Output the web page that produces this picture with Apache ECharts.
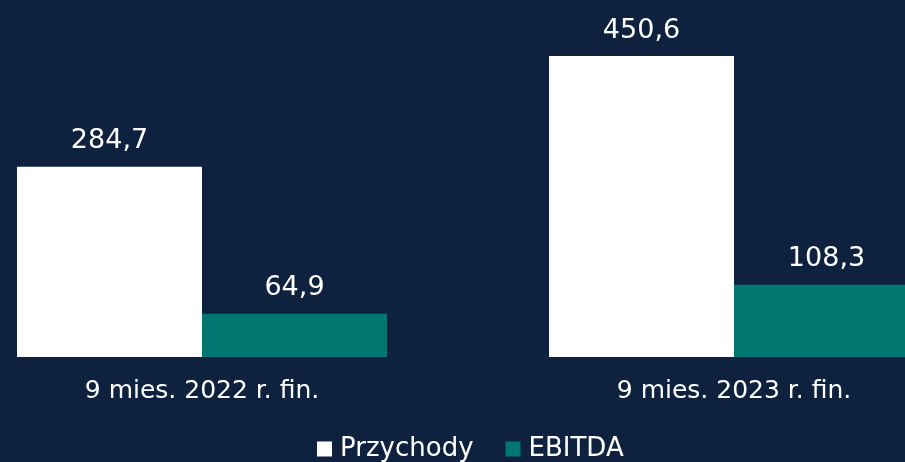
<!DOCTYPE html>
<html>
<head>
<meta charset="utf-8">
<script src="https://cdn.jsdelivr.net/npm/echarts@6/dist/echarts.min.js"></script>
<style>
  html, body { margin: 0; padding: 0; background: #0e2240; }
  #main { width: 905px; height: 462px; }
</style>
</head>
<body>
<div id="main"></div>
<script>
var categories = ['9 mies. 2022 r. fin.', '9 mies. 2023 r. fin.'];
var revenue = [284.7, 450.6];
var ebitda = [64.9, 108.3];

var chart = echarts.init(document.getElementById('main'));

// etykiety z przecinkiem dziesiętnym
function fmt(p) {
    return p.value[1].toFixed(1).replace('.', ',');
}

// oś x jako wartość, żeby druga grupa mogła wyjść poza prawą krawędź
function pairs(arr) {
    return arr.map(function (v, i) { return [i, v]; });
}

var option = {
    backgroundColor: '#0e2240',
    textStyle: { fontFamily: 'DejaVu Sans' },
    grid: { left: 0, right: 0, top: 23, bottom: 105 },
    legend: {
        top: 431,
        left: 312,
        icon: 'rect',
        itemWidth: 15,
        itemHeight: 15,
        itemGap: 32,
        textStyle: { color: '#ffffff', fontSize: 26, fontFamily: 'DejaVu Sans', padding: [0, 0, 0, 3] },
        data: ['Przychody', 'EBITDA']
    },
    xAxis: {
        type: 'value',
        min: -0.3797,
        max: 1.3214,
        axisLine: { show: false },
        axisTick: { show: false },
        splitLine: { show: false },
        axisLabel: {
            customValues: [0, 1],
            color: '#ffffff',
            fontSize: 25,
            margin: 22,
            fontFamily: 'DejaVu Sans',
            formatter: function (v) { return categories[Math.round(v)]; }
        }
    },
    yAxis: {
        type: 'value',
        min: 0,
        max: 500,
        show: false,
        splitLine: { show: false }
    },
    series: [
        {
            name: 'Przychody',
            type: 'bar',
            data: pairs(revenue),
            barWidth: 185,
            barGap: '0%',
            itemStyle: { color: '#ffffff' },
            label: { show: true, position: 'top', distance: 12, color: '#ffffff', fontSize: 27, formatter: fmt }
        },
        {
            name: 'EBITDA',
            type: 'bar',
            data: pairs(ebitda),
            barWidth: 185,
            barGap: '0%',
            itemStyle: { color: '#007670' },
            label: { show: true, position: 'top', distance: 12, color: '#ffffff', fontSize: 27, formatter: fmt }
        }
    ]
};

chart.setOption(option);
</script>
</body>
</html>
